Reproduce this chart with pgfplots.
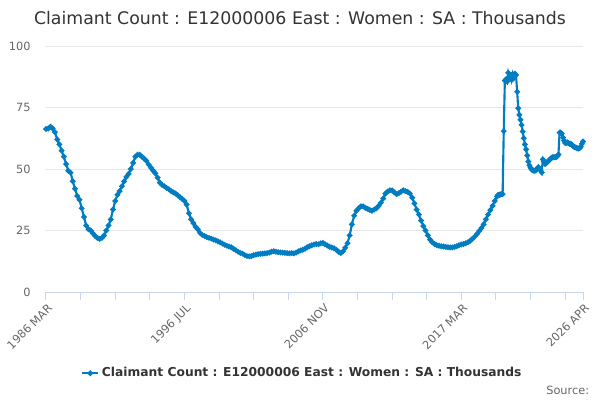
\documentclass[border=0pt]{standalone}
\usepackage{pgfplots}
\pgfplotsset{compat=1.18}
\usepackage{fontspec}
\setmainfont{DejaVu Sans}
\definecolor{linec}{RGB}{0,124,194}
\definecolor{gridc}{RGB}{230,230,230}
\definecolor{tickc}{RGB}{204,214,235}
\definecolor{labc}{RGB}{102,102,102}
\definecolor{titc}{RGB}{51,51,51}
\pgfplotstableread{
m v
0 66.3
2 66.5
4 67.2
6 66.5
8 65
10 62
12 60
14 57.5
16 55
18 52
20 49.3
22 48.5
24 45
26 42
28 39
30 37.5
32 34
34 30.5
36 27
38 25.5
40 25
42 23.8
44 22.8
46 22
48 21.6
50 22
52 23
54 25
56 27
58 29.5
60 33.5
62 37
64 39.5
66 41
68 43
70 45
72 46.8
74 48
76 50
78 52.5
80 55
82 55.8
84 55.8
86 55
88 54.2
90 53.3
92 51.8
94 50.5
96 49.3
98 48.2
100 46.5
102 44.5
104 43.5
106 43
108 42.3
110 41.8
112 41
114 40.5
116 40
118 39.3
120 38.5
122 37.8
124 37
126 35.5
128 32
130 29.5
132 28
134 26.5
136 25.5
138 24
140 23.2
142 22.8
144 22.3
146 22
148 21.7
150 21.3
152 21
154 20.6
156 20.2
158 19.7
160 19.2
162 18.8
164 18.5
166 18.2
168 17.6
170 17
172 16.4
174 15.9
176 15.6
178 15
180 14.6
182 14.5
184 14.6
186 15
188 15.2
190 15.4
192 15.5
194 15.6
196 15.7
198 15.8
200 16
202 16.4
204 16.6
206 16.4
208 16.2
210 16.1
212 16
214 15.9
216 15.8
218 15.7
220 15.8
222 15.7
224 16
226 16.5
228 16.9
230 17.2
232 17.6
234 18.2
236 18.6
238 19
240 19.3
242 19.5
244 19.4
246 19.8
248 20
250 19.4
252 18.9
254 18.4
256 18.1
258 17.8
260 17.2
262 16.4
264 15.8
266 16.5
268 18
270 19.8
272 23
274 27.5
276 31
278 33
280 34
282 34.8
284 34.8
286 34.2
288 33.8
290 33.3
292 33
294 33.5
296 34
298 35
300 36.3
302 38
304 40
306 40.8
308 41.3
310 41.3
312 40.5
314 39.8
316 40.2
318 40.8
320 41.4
322 41
324 40.7
326 40
328 38.3
330 36
332 33.5
334 31.5
336 29
338 26.8
340 25
342 23
344 21.3
346 20.2
348 19.5
350 19
352 18.8
354 18.6
356 18.5
358 18.3
360 18.2
362 18.1
364 18.1
366 18.3
368 18.6
370 19
372 19.3
374 19.5
376 19.8
378 20.2
380 20.8
382 21.6
384 22.5
386 23.6
388 24.8
390 26
392 27.5
394 29.5
396 31.5
398 33.3
400 35
402 37
404 38.8
405 39.5
406 39.5
407 39.6
408 39.8
409 39.8
410 65.4
411 85.9
412 86.5
413 85.5
414 89.1
415 87.5
416 88.2
417 86.2
418 88.6
419 87
420 88.8
421 88.2
422 81.4
423 74.7
424 72
425 70
426 67.9
427 65.2
428 62.5
429 60
430 58
431 55.5
432 53
433 51.5
434 50.5
435 49.8
436 49.5
437 49.3
438 49.3
439 49.5
440 50.2
441 50.8
442 50
443 49.5
444 48.6
445 53.9
446 53
447 52
448 52.3
449 52.8
450 53.3
451 53.7
452 54.2
453 54.6
454 54.8
455 54.8
456 54.8
457 54.9
458 55.2
459 55.9
460 64.8
461 64.8
462 64.3
463 62.8
464 61.6
465 60.6
466 60.6
467 60.8
468 60.6
469 60.2
470 60.3
471 59.9
472 59.4
473 59
474 58.8
475 58.6
476 58.4
477 58.3
478 58.5
479 59
480 60.2
481 61.2
}\datatable
\begin{document}
\begin{tikzpicture}
\path[use as bounding box] (0,0) rectangle (450pt,300pt);
\node[text=titc, font=\fontsize{13pt}{15pt}\selectfont] at (225pt,286.5pt) {Claimant Count : E12000006 East : Women : SA : Thousands};
\node[text=labc, font=\fontsize{8.5pt}{10pt}\selectfont, anchor=east, inner sep=0pt] at (442pt,7.5pt) {Source:};
\begin{axis}[
  at={(34.5pt,81pt)}, anchor=south west,
  scale only axis, width=402.75pt, height=184.5pt,
  xmin=0, xmax=481, ymin=0, ymax=100,
  clip=false,
  axis x line*=bottom, axis y line*=left,
  x axis line style={draw=tickc, line width=0.75pt, -},
  y axis line style={draw=none},
  ymajorgrids, grid style={draw=gridc, line width=0.75pt},
  ytick={0,25,50,75,100},
  ytick style={draw=none},
  xtick={0,124,248,372,481},
  xticklabels={1986 MAR,1996 JUL,2006 NOV,2017 MAR,2026 APR},
  extra x ticks={31,62,93,155,186,217,279,310,341,403,434,465},
  extra x tick labels={},
  extra x tick style={grid=none, xtick style={draw=tickc, line width=0.75pt}},
  tick align=outside, major tick length=6pt,
  xtick style={draw=tickc, line width=0.75pt},
  xticklabel style={rotate=45, anchor=north east, inner sep=1pt, yshift=-1pt, font=\fontsize{8.5pt}{10pt}\selectfont, text=labc},
  yticklabel style={font=\fontsize{8.5pt}{10pt}\selectfont, text=labc, xshift=-2pt},
  /pgf/number format/assume math mode=true,
  legend style={at={(0.478,-0.33)}, anchor=center, draw=none, fill=none, font=\bfseries\fontsize{9.2pt}{11pt}\selectfont, text=titc},
  legend cell align=left,
  legend image code/.code={\draw[mark repeat=2,mark phase=2,#1] plot coordinates {(0cm,0cm) (0.21cm,0cm) (0.42cm,0cm)};},
]
\addplot[color=linec, line width=1.6pt, mark=*, mark size=1.2pt, mark options={fill=linec, draw=linec}] table[x=m, y=v] {\datatable};
\addlegendentry{Claimant Count : E12000006 East : Women : SA : Thousands}
\end{axis}
\end{tikzpicture}
\end{document}
